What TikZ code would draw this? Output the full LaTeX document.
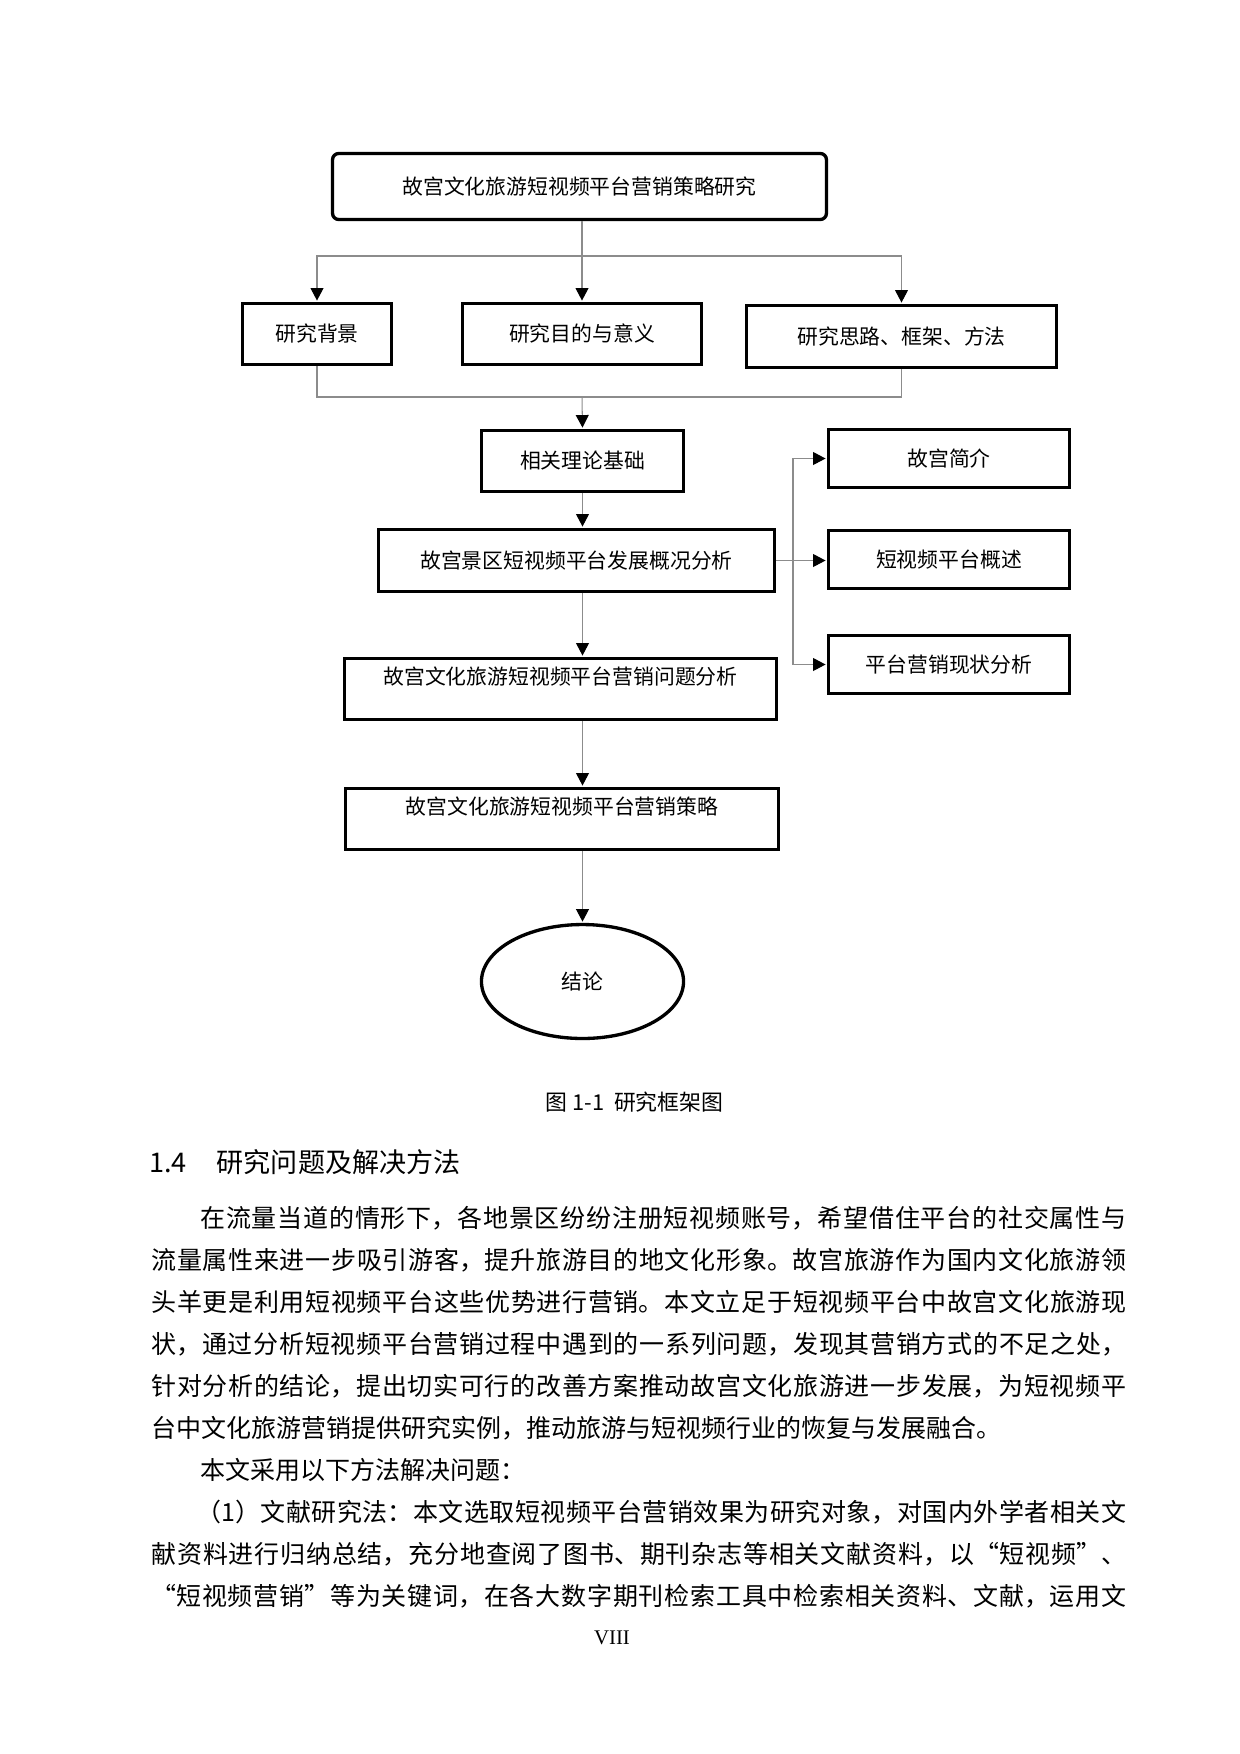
\documentclass[tikz,border=0pt]{standalone}
\usepackage{fontspec}
\setmainfont{Noto Sans CJK SC}
\newfontfamily\romanfont{Liberation Serif}
\usetikzlibrary{arrows.meta,shapes.geometric}
\XeTeXlinebreaklocale "zh"
\XeTeXlinebreakskip=0pt plus 1fil

\tikzset{
  box/.style={draw, line width=1.6pt, inner sep=0pt, minimum height=29.3pt, font=\fontsize{10}{12}\selectfont},
  link/.style={draw=black!45, line width=0.5pt, shorten >=0.6pt, -{Triangle[length=6pt,width=6.2pt,color=black]}},
  joinline/.style={draw=black!45, line width=0.5pt},
  bodyline/.style={anchor=west, inner sep=0pt, font=\fontsize{12}{14}\selectfont},
  fullline/.style={bodyline, text width=468pt, align=justify, execute at begin node={\parfillskip 0pt\relax}}
}

\begin{document}
\begin{tikzpicture}[x=0.48pt,y=-0.48pt]
\useasboundingbox (0,0) rectangle (1240,1754);

% framework boxes
\node[box, rounded corners=3pt, minimum width=237.1pt, minimum height=31.7pt] (title) at (579.5,186.5) {故宫文化旅游短视频平台营销策略研究};
\node[box, minimum width=71.5pt] (bg) at (317,334) {研究背景};
\node[box, minimum width=114.7pt] (aim) at (582,334) {研究目的与意义};
\node[box, minimum width=148.8pt, minimum height=29.8pt] (idea) at (901.5,336.5) {研究思路、框架、方法};
\node[box, minimum width=97pt] (theory) at (582.5,461) {相关理论基础};
\node[box, minimum width=190pt, minimum height=29.8pt] (status) at (576.5,560.5) {故宫景区短视频平台发展概况分析};
\node[box, minimum width=115.7pt, minimum height=27.8pt] (intro) at (949,458.5) {故宫简介};
\node[box, minimum width=115.7pt, minimum height=27.8pt] (overview) at (949,559.5) {短视频平台概述};
\node[box, minimum width=115.7pt, minimum height=27.8pt] (current) at (949,664.5) {平台营销现状分析};
\node[box, minimum width=207.4pt, text height=8pt, text depth=12.4pt] (problem) at (560.5,689) {故宫文化旅游短视频平台营销问题分析};
\node[box, minimum width=207.8pt, text height=8pt, text depth=12.4pt] (strategy) at (562,819) {故宫文化旅游短视频平台营销策略};
\node[box, ellipse, minimum width=97pt, minimum height=54.7pt] (concl) at (582.5,981.5) {结论};

% connectors
\coordinate (fork) at (582,256);
\coordinate (join) at (582,397);
\coordinate (branch) at (793,560.5);
\draw[joinline] (title.south -| fork) -- (fork);
\draw[link] (fork) -- (aim.north);
\draw[link] (fork) -| (bg.north);
\draw[link] (fork) -| (idea.north);
\draw[joinline] (bg.south) |- (join) -| (idea.south);
\draw[link] (join) -- (theory.north);
\draw[link] (theory.south) -- (theory.south |- status.north);
\draw[link] (theory.south |- status.south) -- (theory.south |- problem.north);
\draw[link] (theory.south |- problem.south) -- (theory.south |- strategy.north);
\draw[link] (theory.south |- strategy.south) -- (concl.north);
\draw[link] (status.east) -- (status.east -| overview.west);
\draw[link] (branch) |- (intro.west);
\draw[link] (branch) |- (current.west);

% caption and text
\node[font=\fontsize{10.5}{12}\selectfont] (caption) at (634.5,1102) {图 1-1\hspace{0.45em}研究框架图};
\node[bodyline, font=\fontsize{13}{15}\selectfont] (heading) at (149,1162) {1.4\hspace{1.1em}研究问题及解决方法};
\node[fullline, text width=444.5pt] (line1) at (200,1218) {在流量当道的情形下，各地景区纷纷注册短视频账号，希望借住平台的社交属性与};
\node[fullline] (line2) at (151,1260) {流量属性来进一步吸引游客，提升旅游目的地文化形象。故宫旅游作为国内文化旅游领};
\node[fullline] (line3) at (151,1302) {头羊更是利用短视频平台这些优势进行营销。本文立足于短视频平台中故宫文化旅游现};
\node[fullline] (line4) at (151,1344) {状，通过分析短视频平台营销过程中遇到的一系列问题，发现其营销方式的不足之处，};
\node[fullline] (line5) at (151,1386) {针对分析的结论，提出切实可行的改善方案推动故宫文化旅游进一步发展，为短视频平};
\node[bodyline] (line6) at (151,1428) {台中文化旅游营销提供研究实例，推动旅游与短视频行业的恢复与发展融合。};
\node[bodyline] (line7) at (200,1470) {本文采用以下方法解决问题：};
\node[fullline, text width=446.4pt] (line8) at (196,1512) {（1）文献研究法：本文选取短视频平台营销效果为研究对象，对国内外学者相关文};
\node[fullline] (line9) at (151,1554) {献资料进行归纳总结，充分地查阅了图书、期刊杂志等相关文献资料，以“短视频”、};
\node[fullline] (line10) at (151,1596) {“短视频营销”等为关键词，在各大数字期刊检索工具中检索相关资料、文献，运用文};
\node[font=\romanfont\fontsize{10}{12}\selectfont] (page) at (612,1638) {VIII};
\end{tikzpicture}
\end{document}
